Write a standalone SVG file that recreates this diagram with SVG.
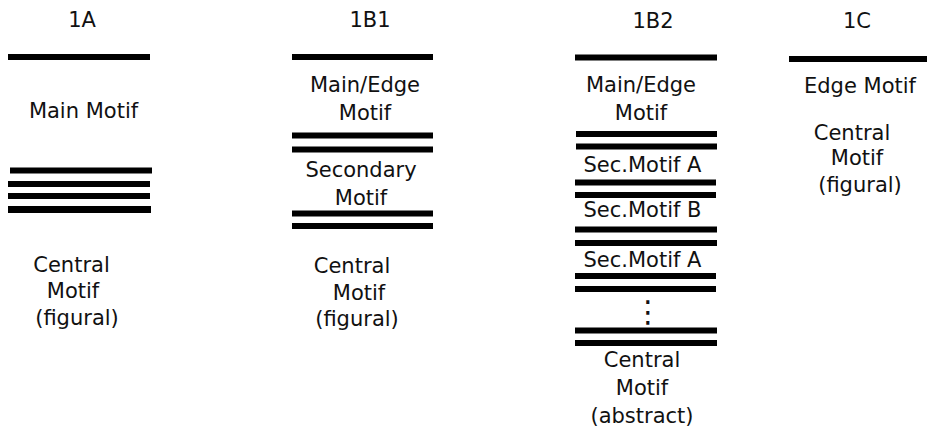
<svg xmlns="http://www.w3.org/2000/svg" width="927" height="438" viewBox="0 0 927 438">
<style>
text{font-family:"DejaVu Sans","Liberation Sans",sans-serif;font-size:21px;fill:#111;text-anchor:middle}
.bar{stroke:#000;stroke-width:6}
.dot{font-size:30px}
</style>
<rect width="927" height="438" fill="#fff"/>
<g id="col-1A">
<text x="82" y="27">1A</text>
<line class="bar" x1="8" y1="57" x2="150" y2="57"/>
<text x="83.5" y="118">Main Motif</text>
<line class="bar" x1="10" y1="170.5" x2="152" y2="170.5"/>
<line class="bar" x1="8" y1="184" x2="150" y2="184"/>
<line class="bar" x1="8" y1="196" x2="150" y2="196"/>
<line class="bar" x1="8" y1="209.5" x2="151" y2="209.5" style="stroke-width:7"/>
<text x="71.5" y="272">Central</text>
<text x="73" y="298">Motif</text>
<text x="77" y="325">(figural)</text>
</g>
<g id="col-1B1">
<text x="370" y="27">1B1</text>
<line class="bar" x1="292" y1="57" x2="433" y2="57"/>
<text x="365" y="92">Main/Edge</text>
<text x="365" y="120">Motif</text>
<line class="bar" x1="292" y1="135.5" x2="433" y2="135.5"/>
<line class="bar" x1="292" y1="149.5" x2="433" y2="149.5"/>
<text x="361" y="177">Secondary</text>
<text x="361" y="205">Motif</text>
<line class="bar" x1="292" y1="213.5" x2="433" y2="213.5"/>
<line class="bar" x1="292" y1="226" x2="433" y2="226"/>
<text x="352" y="273">Central</text>
<text x="359" y="300">Motif</text>
<text x="357" y="326">(figural)</text>
</g>
<g id="col-1B2">
<text x="653" y="28">1B2</text>
<line class="bar" x1="575" y1="57.5" x2="717" y2="57.5"/>
<text x="641" y="92">Main/Edge</text>
<text x="641" y="120">Motif</text>
<line class="bar" x1="576" y1="134" x2="717" y2="134"/>
<line class="bar" x1="576" y1="146.5" x2="717" y2="146.5"/>
<text x="642.5" y="172">Sec.Motif A</text>
<line class="bar" x1="575" y1="182.5" x2="716" y2="182.5"/>
<line class="bar" x1="575" y1="195" x2="716" y2="195"/>
<text x="642.5" y="217">Sec.Motif B</text>
<line class="bar" x1="575" y1="229.5" x2="717" y2="229.5"/>
<line class="bar" x1="575" y1="243" x2="717" y2="243"/>
<text x="642.5" y="267">Sec.Motif A</text>
<line class="bar" x1="575" y1="276" x2="716" y2="276"/>
<line class="bar" x1="575" y1="289" x2="716" y2="289"/>
<text class="dot" x="648" y="322">⋮</text>
<line class="bar" x1="575" y1="330.5" x2="717" y2="330.5"/>
<line class="bar" x1="575" y1="343" x2="717" y2="343"/>
<text x="642" y="367">Central</text>
<text x="642" y="395">Motif</text>
<text x="642" y="423">(abstract)</text>
</g>
<g id="col-1C">
<text x="857" y="28">1C</text>
<line class="bar" x1="789" y1="59" x2="927" y2="59"/>
<text x="860" y="93">Edge Motif</text>
<text x="852" y="140">Central</text>
<text x="857" y="165">Motif</text>
<text x="860" y="192">(figural)</text>
</g>
<g id="connectors"></g>
</svg>
